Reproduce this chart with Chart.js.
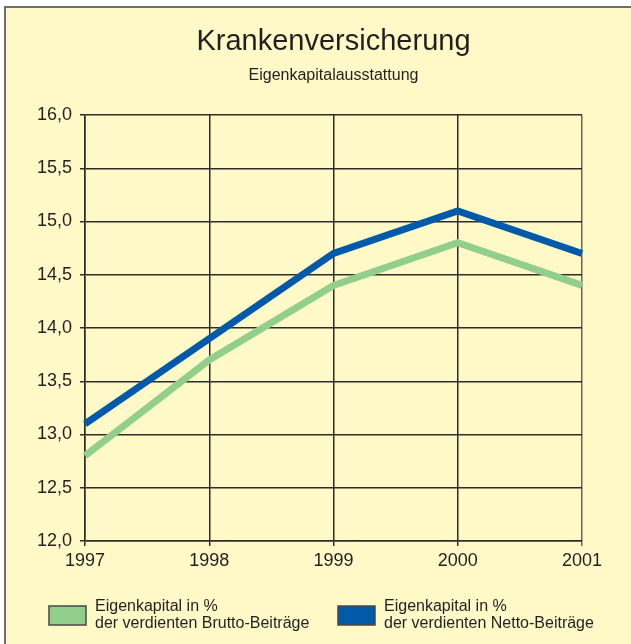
<!DOCTYPE html>
<html lang="de">
<head>
<meta charset="utf-8">
<title>Krankenversicherung</title>
<script src="https://cdn.jsdelivr.net/npm/chart.js@4/dist/chart.umd.min.js"></script>
<style>
  html, body { margin: 0; padding: 0; background: #fff; }
  #wrap { width: 631px; height: 644px; }
</style>
</head>
<body>
<div id="wrap"><canvas id="chart" width="631" height="644"></canvas></div>
<script>
// Data
const years = ['1997', '1998', '1999', '2000', '2001'];
const brutto = [12.8, 13.7, 14.4, 14.8, 14.4];
const netto = [13.1, 13.9, 14.7, 15.1, 14.7];
const yTicks = [12.0, 12.5, 13.0, 13.5, 14.0, 14.5, 15.0, 15.5, 16.0];
const seriesLabels = [
  'Eigenkapital in %\nder verdienten Brutto-Beiträge',
  'Eigenkapital in %\nder verdienten Netto-Beiträge'
];

const FONT = '"Liberation Sans", Arial, Helvetica, sans-serif';
const INK = '#231f20';
const GRID = '#2e2c2a';

// Yellow panel with grey frame on top and left
const panel = {
  id: 'panel',
  beforeDraw(chart) {
    const c = chart.ctx;
    c.save();
    c.fillStyle = '#ffffff';
    c.fillRect(0, 0, chart.width, chart.height);
    c.fillStyle = '#fff9c8';
    c.fillRect(5, 7, chart.width - 5, chart.height - 7);
    c.strokeStyle = '#6e6e6e';
    c.lineWidth = 2;
    c.beginPath();
    c.moveTo(5, chart.height);
    c.lineTo(5, 7);
    c.lineTo(chart.width, 7);
    c.stroke();
    c.restore();
  }
};

// Two-line legend under the plot
const bottomLegend = {
  id: 'bottomLegend',
  afterDraw(chart) {
    const c = chart.ctx;
    const spots = [49, 338];
    c.save();
    chart.data.datasets.forEach((ds, i) => {
      const x = spots[i];
      c.fillStyle = ds.borderColor;
      c.fillRect(x, 606, 37, 19);
      c.strokeStyle = '#4a4a42';
      c.lineWidth = 1.5;
      c.strokeRect(x, 606, 37, 19);
      c.fillStyle = INK;
      c.font = '16px ' + FONT;
      c.textBaseline = 'middle';
      c.textAlign = 'left';
      ds.label.split('\n').forEach((line, k) => {
        c.fillText(line, x + 46, 607 + k * 17);
      });
    });
    c.restore();
  }
};

const ctx = document.getElementById('chart').getContext('2d');
const chart = new Chart(ctx, {
  type: 'line',
  data: {
    labels: years,
    datasets: [{
      label: seriesLabels[0],
      data: brutto,
      borderColor: '#93cf8c',
      backgroundColor: '#93cf8c',
      borderWidth: 7,
      pointRadius: 0,
      tension: 0
    }, {
      label: seriesLabels[1],
      data: netto,
      borderColor: '#005aa9',
      backgroundColor: '#005aa9',
      borderWidth: 7,
      pointRadius: 0,
      tension: 0
    }]
  },
  options: {
    responsive: false,
    animation: false,
    devicePixelRatio: 1,
    layout: {
      padding: { left: 6, right: 49, top: 0, bottom: 63 }
    },
    plugins: {
      legend: { display: false },
      tooltip: { enabled: false },
      // fullSize false keeps the titles centred over the plot area
      title: {
        display: true,
        fullSize: false,
        text: 'Krankenversicherung',
        color: INK,
        font: { family: FONT, size: 29, weight: 'normal' },
        padding: { top: 25, bottom: 5 }
      },
      subtitle: {
        display: true,
        fullSize: false,
        text: 'Eigenkapitalausstattung',
        color: INK,
        font: { family: FONT, size: 16, weight: 'normal' },
        padding: { top: 1, bottom: 30 }
      }
    },
    scales: {
      x: {
        offset: false,
        afterFit(scale) { scale.height = 40; },
        grid: {
          color: c => c.index === years.length - 1 ? '#6b6558' : GRID,
          lineWidth: 1.5,
          tickLength: 5,
          tickColor: c => c.index === years.length - 1 ? '#6b6558' : GRID
        },
        border: { color: GRID, width: 1.5 },
        ticks: {
          color: INK,
          font: { family: FONT, size: 18 },
          padding: 4,
          maxRotation: 0
        }
      },
      y: {
        min: 12,
        max: 16,
        afterFit(scale) { scale.width = 79; },
        afterBuildTicks(scale) { scale.ticks = yTicks.map(v => ({ value: v })); },
        grid: { color: GRID, lineWidth: 1.5, tickLength: 5, tickColor: GRID },
        border: { color: GRID, width: 1.5 },
        ticks: {
          color: INK,
          font: { family: FONT, size: 18 },
          padding: 8,
          callback: v => Number(v).toFixed(1).replace('.', ',')
        }
      }
    }
  },
  plugins: [panel, bottomLegend]
});
</script>
</body>
</html>
